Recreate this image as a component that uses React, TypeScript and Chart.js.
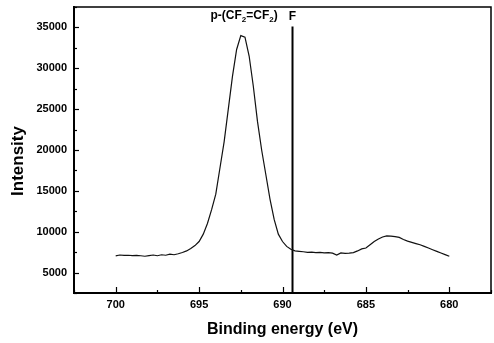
import React, { useEffect, useRef } from "react";
import { Chart, registerables } from "chart.js";

Chart.register(...registerables);

const energies = [
  700.0, 699.75, 699.5, 699.25, 699.0, 698.75, 698.5, 698.25, 698.0, 697.75,
  697.5, 697.25, 697.0, 696.75, 696.5, 696.25, 696.0, 695.75, 695.5, 695.25,
  695.0, 694.75, 694.5, 694.25, 694.0, 693.75, 693.5, 693.25, 693.0, 692.75,
  692.5, 692.25, 692.0, 691.75, 691.5, 691.25, 691.0, 690.75, 690.5, 690.25,
  690.0, 689.75, 689.5, 689.25, 689.0, 688.75, 688.5, 688.25, 688.0, 687.75,
  687.5, 687.25, 687.0, 686.75, 686.5, 686.25, 686.0, 685.75, 685.5, 685.25,
  685.0, 684.75, 684.5, 684.25, 684.0, 683.75, 683.5, 683.25, 683.0, 682.75,
  682.5, 682.25, 682.0, 681.75, 681.5, 681.25, 681.0, 680.75, 680.5, 680.25,
  680.0,
];

const intensity = [
  7050, 7150, 7100, 7120, 7080, 7100, 7060, 7000, 7080, 7150,
  7060, 7180, 7120, 7250, 7180, 7300, 7450, 7650, 7950, 8300,
  8800, 9700, 11000, 12700, 14600, 17800, 21000, 25000, 29000, 32300,
  34000, 33800, 31500, 27800, 23500, 20000, 17000, 14000, 11500, 9700,
  8800, 8200, 7850, 7650, 7600, 7550, 7480, 7500, 7450, 7480,
  7420, 7450, 7380, 7150, 7400, 7350, 7380, 7450, 7650, 7900,
  8000, 8400, 8800, 9100, 9350, 9500, 9450, 9400, 9300, 9050,
  8850, 8700, 8550, 8400, 8200, 8000, 7800, 7600, 7400, 7200,
  7000,
];

const markerEnergy = [689.4, 689.4];
const markerIntensity = [2500, 35100];

const xTicks = [700, 695, 690, 685, 680];
const xMinorTicks = [702.5, 697.5, 692.5, 687.5, 682.5, 677.5];
const yTicks = [5000, 10000, 15000, 20000, 25000, 30000, 35000];
const yMinorTicks = [2500, 7500, 12500, 17500, 22500, 27500, 32500, 37500];

const xRange = [677.5, 702.5];
const yRange = [2500, 37500];

const xTitle = "Binding energy (eV)";
const yTitle = "Intensity";
const peakLabelParts = ["p-(CF", "2", "=CF", "2", ")"];
const peakLabelPos = [692.3, 36400];
const markerLabel = "F";
const markerLabelY = 36300;

const FONT = "'Liberation Sans', Arial, Helvetica, sans-serif";

const framePlugin = {
  id: "frameAndTicks",
  afterDraw(chart: any) {
    const { ctx, chartArea, scales } = chart;
    const xs = scales.x;
    const ys = scales.y;
    ctx.save();
    ctx.strokeStyle = "#000";
    ctx.lineWidth = 1.5;
    ctx.beginPath();
    ctx.moveTo(chartArea.left, chartArea.top);
    ctx.lineTo(chartArea.right, chartArea.top);
    ctx.lineTo(chartArea.right, chartArea.bottom);
    ctx.stroke();
    ctx.lineWidth = 1.2;
    const drawX = (vals: number[], len: number) => {
      vals.forEach((v) => {
        const px = Math.round(xs.getPixelForValue(v)) + 0.5;
        ctx.beginPath();
        ctx.moveTo(px, chartArea.bottom);
        ctx.lineTo(px, chartArea.bottom - len);
        ctx.stroke();
      });
    };
    const drawY = (vals: number[], len: number) => {
      vals.forEach((v) => {
        const py = Math.round(ys.getPixelForValue(v)) + 0.5;
        ctx.beginPath();
        ctx.moveTo(chartArea.left, py);
        ctx.lineTo(chartArea.left + len, py);
        ctx.stroke();
      });
    };
    drawX(xTicks, 6);
    drawX(xMinorTicks, 3);
    drawY(yTicks, 5);
    drawY(yMinorTicks, 3);

    ctx.fillStyle = "#000";
    ctx.font = `bold 17px ${FONT}`;
    ctx.textAlign = "center";
    ctx.textBaseline = "middle";
    ctx.save();
    ctx.translate(18, (chartArea.top + chartArea.bottom) / 2 + 11);
    ctx.rotate(-Math.PI / 2);
    ctx.fillText(yTitle, 0, 0);
    ctx.restore();

    const mainFont = `bold 12px ${FONT}`;
    const subFont = `bold 8px ${FONT}`;
    let total = 0;
    peakLabelParts.forEach((p, i) => {
      ctx.font = i % 2 === 1 ? subFont : mainFont;
      total += ctx.measureText(p).width;
    });
    let cx = xs.getPixelForValue(peakLabelPos[0]) - total / 2;
    const cy = ys.getPixelForValue(peakLabelPos[1]);
    ctx.textAlign = "left";
    peakLabelParts.forEach((p, i) => {
      const sub = i % 2 === 1;
      ctx.font = sub ? subFont : mainFont;
      ctx.fillText(p, cx, sub ? cy + 4 : cy);
      cx += ctx.measureText(p).width;
    });

    ctx.font = mainFont;
    ctx.textAlign = "center";
    ctx.fillText(markerLabel, xs.getPixelForValue(markerEnergy[0]), ys.getPixelForValue(markerLabelY));
    ctx.restore();
  },
};

export default function App() {
  const ref = useRef<HTMLCanvasElement>(null);
  useEffect(() => {
    if (!ref.current) return;
    const chart = new Chart(ref.current, {
      type: "line",
      data: {
        datasets: [
          {
            data: energies.map((e, i) => ({ x: e, y: intensity[i] })),
            borderColor: "#111",
            borderWidth: 1.2,
            pointRadius: 0,
            tension: 0,
          },
          {
            data: markerEnergy.map((e, i) => ({ x: e, y: markerIntensity[i] })),
            borderColor: "#000",
            borderWidth: 2,
            pointRadius: 0,
          },
        ],
      },
      options: {
        responsive: false,
        animation: false,
        events: [],
        layout: { padding: { top: 7, right: 3, left: 0, bottom: 0 } },
        plugins: { legend: { display: false }, tooltip: { enabled: false } },
        scales: {
          x: {
            type: "linear",
            reverse: true,
            min: xRange[0],
            max: xRange[1],
            afterBuildTicks: (s: any) => {
              s.ticks = xTicks.map((v) => ({ value: v }));
            },
            afterFit: (s: any) => {
              s.height = 50;
              s.paddingLeft = 0;
              s.paddingRight = 0;
            },
            grid: { display: true, drawOnChartArea: false, drawTicks: false },
            border: { display: true, color: "#000", width: 2 },
            ticks: {
              padding: 5,
              color: "#000",
              font: { family: FONT, size: 11, weight: "bold" },
              callback: (v: any) => String(v),
            },
            title: {
              display: true,
              text: xTitle,
              color: "#000",
              font: { family: FONT, size: 16, weight: "bold" },
              padding: { top: 0, bottom: 4 },
            },
          },
          y: {
            type: "linear",
            min: yRange[0],
            max: yRange[1],
            afterBuildTicks: (s: any) => {
              s.ticks = yTicks.map((v) => ({ value: v }));
            },
            afterFit: (s: any) => {
              s.width = 74;
              s.paddingTop = 0;
              s.paddingBottom = 0;
            },
            grid: { display: true, drawOnChartArea: false, drawTicks: false },
            border: { display: true, color: "#000", width: 2 },
            ticks: {
              padding: 7,
              color: "#000",
              font: { family: FONT, size: 11, weight: "bold" },
              callback: (v: any) => String(v),
            },
          },
        },
      },
      plugins: [framePlugin],
    });
    return () => chart.destroy();
  }, []);
  return (
    <div style={{ position: "absolute", left: 0, top: 0, width: 494, height: 343, background: "#fff" }}>
      <canvas ref={ref} width={494} height={343} />
    </div>
  );
}
